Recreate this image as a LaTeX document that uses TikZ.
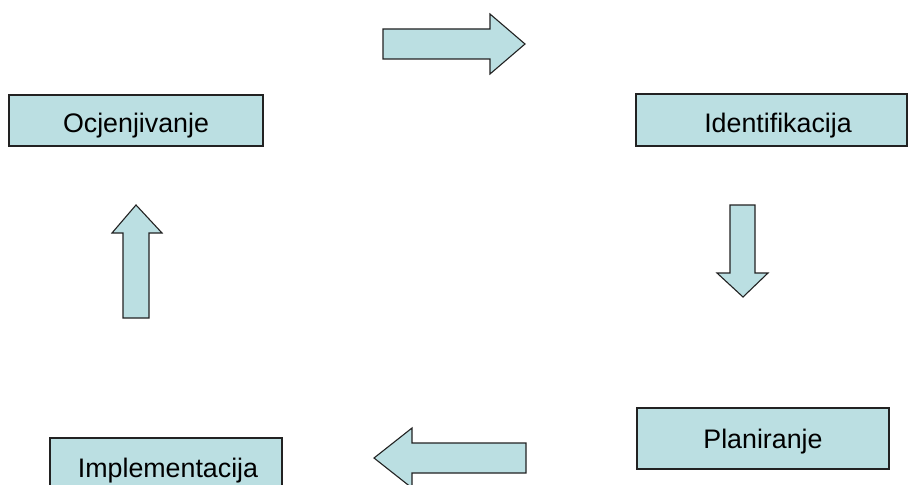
\documentclass[tikz,border=0pt]{standalone}
\usepackage{fontspec}
\setmainfont{Liberation Sans}
\definecolor{boxfill}{HTML}{BBDFE2}
\definecolor{edge}{HTML}{222222}
\begin{document}
\begin{tikzpicture}[x=1pt,y=-1pt,
  stagebox/.style={draw=edge,fill=boxfill,line width=1.1pt},
  flowarrow/.style={draw=edge,fill=boxfill,line width=1.1pt,line join=miter},
  lbl/.style={anchor=base,inner sep=0pt,font=\fontsize{26.8}{30}\selectfont}]
\useasboundingbox (0,0) rectangle (909,484);
\clip (0,0) rectangle (909,484);
\fill[white] (0,0) rectangle (909,484);
% boxes
\draw[stagebox] (9,95) rectangle (263,146);
\node[lbl] (ocj) at (136,132) {Ocjenjivanje};
\draw[stagebox] (636,94) rectangle (907,146);
\node[lbl] (ide) at (778,132) {Identifikacija};
\draw[stagebox] (637,408) rectangle (889,469);
\node[lbl] (pla) at (763,448) {Planiranje};
\draw[stagebox] (50,438) rectangle (282,500);
\node[lbl] (imp) at (168,477) {Implementacija};
% arrows
\draw[flowarrow] (383,29) -- (490,29) -- (490,14) -- (525,44) -- (490,74) -- (490,59) -- (383,59) -- cycle;
\draw[flowarrow] (730,205) -- (755,205) -- (755,273) -- (768,273) -- (743,297) -- (717,273) -- (730,273) -- cycle;
\draw[flowarrow] (526,443) -- (412,443) -- (412,428) -- (374,458) -- (412,488) -- (412,473) -- (526,473) -- cycle;
\draw[flowarrow] (123,318) -- (123,233) -- (112,233) -- (136,205) -- (162,233) -- (149,233) -- (149,318) -- cycle;
\end{tikzpicture}
\end{document}
